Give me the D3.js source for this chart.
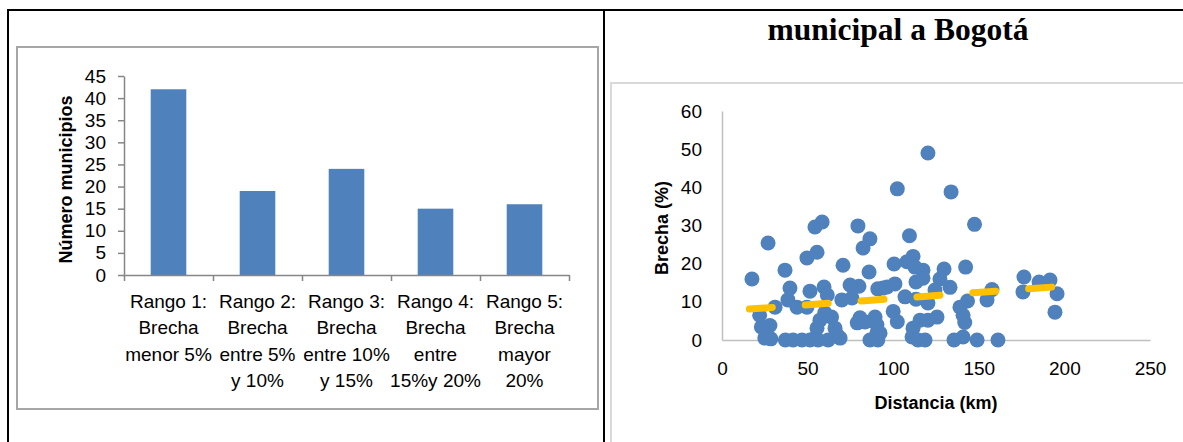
<!DOCTYPE html>
<html>
<head>
<meta charset="utf-8">
<script src="https://cdn.jsdelivr.net/npm/d3@7"></script>
<style>
  html, body { margin: 0; padding: 0; background: #fff; }
  svg { display: block; }
  text { font-family: "Liberation Sans", Arial, sans-serif; fill: #000; }
</style>
</head>
<body>
<svg id="chart" width="1183" height="442"></svg>
<script>
// Bar chart: municipalities per gap range
const categoryLines = [
  ["Rango 1:", "Brecha", "menor 5%"],
  ["Rango 2:", "Brecha", "entre 5%", "y 10%"],
  ["Rango 3:", "Brecha", "entre 10%", "y 15%"],
  ["Rango 4:", "Brecha", "entre", "15%y 20%"],
  ["Rango 5:", "Brecha", "mayor", "20%"]
];
const municipios = [42, 19, 24, 15, 16];
const barTicks = [0, 5, 10, 15, 20, 25, 30, 35, 40, 45];

// Scatter: gap (%) against distance to Bogotá (km)
const distancia = [17.5, 26.9, 22, 23, 28, 25, 28.5, 31, 36.8, 39.7, 38.5, 37, 43.8, 41.5, 46.7, 51.4, 56.1, 62,
  49.6, 55.5, 54.3, 58.5, 51.4, 49.6, 59.6, 61.5, 60, 64, 55.5, 57.2, 54.3, 66, 67, 69, 70.7, 70, 74.8, 80, 75.9,
  79.4, 86.4, 82.4, 85.9, 91, 94, 96.4, 101, 100.5, 102.4, 80.6, 79, 83.5, 89.4, 90.5, 86.4, 91, 90.5, 100, 102.4,
  120.3, 133.8, 147.5, 109.5, 111.6, 108, 112.7, 117.4, 129.7, 142.3, 127.3, 113.3, 117.4, 133.2, 124.4, 106.9,
  113.3, 120.3, 157.7, 154.8, 143.4, 139, 140.8, 141.8, 125.6, 120.3, 115.7, 111.6, 111, 114.5, 118.6, 92.3,
  135.5, 140.8, 149, 161.2, 176.4, 175.8, 185.2, 191.6, 195.7, 194.5];
const brecha = [16.0, 25.4, 6.5, 3.4, 3.8, 0.5, 0.3, 8.6, 18.3, 13.6, 10.5, 0, 8.6, 0, 0, 0, 0, 0,
  21.5, 23.0, 29.6, 30.9, 12.8, 8.6, 13.9, 11.8, 7.1, 6.0, 3.1, 5.2, 0.5, 3.1, 1.5, 0.5, 19.6, 10.5, 14.4, 14.1, 11.0,
  29.9, 26.5, 24.1, 17.8, 13.4, 13.6, 13.9, 14.7, 19.9, 39.6, 5.8, 4.5, 4.7, 6.0, 4.0, 0, 0, 1.8, 7.5, 4.8,
  49.0, 38.8, 30.3, 27.3, 21.9, 20.5, 19.1, 18.3, 18.6, 19.1, 16.0, 15.2, 16.2, 13.8, 13.1, 11.3,
  10.7, 9.7, 13.2, 10.5, 10.2, 8.6, 6.5, 4.6, 6.0, 5.2, 5.2, 3.1, 0.8, 0, 0, 1.8,
  0, 0.8, 0, 0, 16.5, 12.6, 15.2, 15.7, 12.1, 7.3];
// Linear trend line end points
const trendDist = [16, 197];
const trendBrecha = [8.1, 14.0];
const xTicks = [0, 50, 100, 150, 200, 250];
const yTicks = [0, 10, 20, 30, 40, 50, 60];

const BLUE = "#4F81BD";
const svg = d3.select("#chart");
svg.append("rect").attr("width", 1183).attr("height", 442).attr("fill", "#fff");

// Table frame
const frame = svg.append("g").attr("stroke", "#000").attr("stroke-width", 2);
frame.append("line").attr("x1", 7).attr("x2", 1183).attr("y1", 10).attr("y2", 10);
frame.append("line").attr("x1", 8).attr("x2", 8).attr("y1", 10).attr("y2", 442);
frame.append("line").attr("x1", 604).attr("x2", 604).attr("y1", 10).attr("y2", 442);

// ---------- Left panel ----------
svg.append("rect").attr("x", 17).attr("y", 47).attr("width", 581).attr("height", 362)
  .attr("fill", "#fff").attr("stroke", "#A6A6A6").attr("stroke-width", 2);

const left = 124, right = 569, y0 = 275, yTop = 76;
const xb = d3.scaleBand().domain(d3.range(municipios.length)).range([left, right])
  .paddingInner(0.6).paddingOuter(0.3);
const yb = d3.scaleLinear().domain([0, 45]).range([y0, yTop]);
const bound = d3.scaleLinear().domain([0, municipios.length]).range([left, right]);

svg.append("g").selectAll("rect").data(municipios).join("rect")
  .attr("x", (d, i) => xb(i)).attr("width", xb.bandwidth())
  .attr("y", d => yb(d)).attr("height", d => y0 - yb(d))
  .attr("fill", BLUE);

const yAxisB = svg.append("g").attr("transform", `translate(${left},0)`)
  .call(d3.axisLeft(yb).tickValues(barTicks).tickSizeInner(6).tickSizeOuter(0).tickPadding(12));
yAxisB.selectAll("text").style("font-size", "19px").attr("fill", "#000");

const xAxisB = svg.append("g").attr("transform", `translate(0,${y0})`)
  .call(d3.axisBottom(bound).tickValues(d3.range(municipios.length + 1)).tickFormat("").tickSizeInner(6).tickSizeOuter(0));

[yAxisB, xAxisB].forEach(g => {
  g.select(".domain").attr("stroke", "#868686").attr("stroke-width", 1.5);
  g.selectAll(".tick line").attr("stroke", "#868686").attr("stroke-width", 1.5);
});

const catG = svg.append("g").style("font-size", "19px").attr("text-anchor", "middle");
categoryLines.forEach((lines, i) => {
  const t = catG.append("text").attr("x", xb(i) + xb.bandwidth() / 2).attr("y", 308);
  lines.forEach((ln, k) => t.append("tspan").attr("x", xb(i) + xb.bandwidth() / 2).attr("y", 308 + k * 26.3).text(ln));
});

svg.append("text").attr("transform", `translate(72,${(y0 + yTop) / 2 + 4}) rotate(-90)`)
  .attr("text-anchor", "middle").style("font-size", "18px").style("font-weight", "bold")
  .text("Número municipios");

// ---------- Right panel ----------
svg.append("text").attr("x", 898).attr("y", 40).attr("text-anchor", "middle")
  .style("font-family", "'Liberation Serif', 'Times New Roman', serif")
  .style("font-size", "31.5px").style("font-weight", "bold").text("municipal a Bogotá");

svg.append("rect").attr("x", 611).attr("y", 83).attr("width", 600).attr("height", 400)
  .attr("fill", "#fff").attr("stroke", "#D9D9D9").attr("stroke-width", 2);

const xs = d3.scaleLinear().domain([0, 250]).range([722, 1150]);
const ys = d3.scaleLinear().domain([0, 60]).range([340, 111]);

const xAxisS = svg.append("g").attr("transform", "translate(0,340)")
  .call(d3.axisBottom(xs).tickValues(xTicks).tickSize(0).tickPadding(22));
const yAxisS = svg.append("g").attr("transform", "translate(722,0)")
  .call(d3.axisLeft(ys).tickValues(yTicks).tickSize(0).tickPadding(20));
[xAxisS, yAxisS].forEach(g => {
  g.select(".domain").attr("stroke", "#BFBFBF").attr("stroke-width", 1.5);
  g.selectAll("text").style("font-size", "19px").attr("fill", "#000");
});

svg.append("g").selectAll("circle").data(distancia).join("circle")
  .attr("cx", d => xs(d)).attr("cy", (d, i) => ys(brecha[i])).attr("r", 7.5)
  .attr("fill", BLUE);

svg.append("path")
  .datum(trendDist.map((d, i) => [d, trendBrecha[i]]))
  .attr("d", d3.line().x(d => xs(d[0])).y(d => ys(d[1])))
  .attr("fill", "none").attr("stroke", "#FFC000").attr("stroke-width", 7)
  .attr("stroke-linecap", "round").attr("stroke-dasharray", "23 33");

svg.append("text").attr("x", 936).attr("y", 409).attr("text-anchor", "middle")
  .style("font-size", "18px").style("font-weight", "bold").text("Distancia (km)");
svg.append("text").attr("transform", "translate(668,228) rotate(-90)")
  .attr("text-anchor", "middle").style("font-size", "18px").style("font-weight", "bold")
  .text("Brecha (%)");
</script>
</body>
</html>
